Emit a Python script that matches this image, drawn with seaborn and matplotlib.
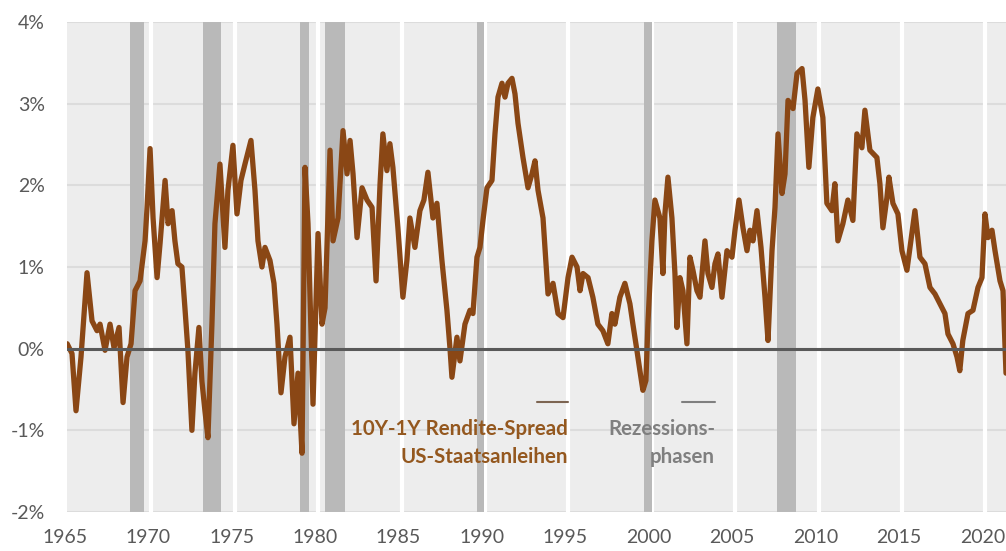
import matplotlib
matplotlib.use('Agg')
import matplotlib.pyplot as plt
import matplotlib.transforms as mtransforms
import seaborn as sns
import pandas as pd

# 10Y-1Y spread of US treasuries (percent)
spread_year = [1964.95, 1965.24, 1965.48, 1965.78, 1966.14, 1966.44, 1966.74, 1966.92, 1967.22, 1967.52,
               1967.76, 1968.06, 1968.30, 1968.54, 1968.78, 1969.02, 1969.32, 1969.62, 1969.74, 1969.92,
               1970.10, 1970.34, 1970.52, 1970.82, 1971.00, 1971.24, 1971.41, 1971.59, 1971.83, 1972.01,
               1972.19, 1972.43, 1972.61, 1972.85, 1973.03, 1973.21, 1973.39, 1973.63, 1973.81, 1974.11,
               1974.41, 1974.59, 1974.89, 1975.13, 1975.37, 1975.61, 1975.97, 1976.21, 1976.39, 1976.63,
               1976.81, 1977.11, 1977.35, 1977.53, 1977.77, 1978.01, 1978.31, 1978.55, 1978.79, 1979.03,
               1979.21, 1979.39, 1979.69, 1979.99, 1980.23, 1980.41, 1980.71, 1980.89, 1981.19, 1981.49,
               1981.73, 1981.91, 1982.09, 1982.33, 1982.63, 1982.93, 1983.23, 1983.47, 1983.71, 1983.88,
               1984.12, 1984.30, 1984.48, 1984.78, 1985.08, 1985.32, 1985.50, 1985.80, 1986.10, 1986.34,
               1986.58, 1986.88, 1987.12, 1987.42, 1987.72, 1987.90, 1988.02, 1988.32, 1988.50, 1988.80,
               1989.10, 1989.28, 1989.52, 1989.70, 1989.88, 1990.12, 1990.42, 1990.60, 1990.78, 1991.02,
               1991.20, 1991.38, 1991.62, 1991.80, 1991.98, 1992.28, 1992.58, 1992.82, 1993.00, 1993.18,
               1993.48, 1993.78, 1994.08, 1994.38, 1994.68, 1994.98, 1995.22, 1995.52, 1995.70, 1995.88,
               1996.18, 1996.47, 1996.77, 1997.07, 1997.37, 1997.61, 1997.79, 1998.09, 1998.39, 1998.69,
               1998.87, 1999.11, 1999.29, 1999.47, 1999.65, 1999.77, 2000.01, 2000.19, 2000.49, 2000.67,
               2000.79, 2000.97, 2001.21, 2001.39, 2001.51, 2001.69, 2001.87, 2002.11, 2002.29, 2002.47,
               2002.71, 2002.89, 2003.19, 2003.37, 2003.61, 2003.79, 2003.97, 2004.21, 2004.51, 2004.81,
               2004.99, 2005.23, 2005.47, 2005.71, 2005.89, 2006.07, 2006.31, 2006.55, 2006.79, 2006.97,
               2007.21, 2007.39, 2007.57, 2007.81, 2007.99, 2008.17, 2008.47, 2008.71, 2009.01, 2009.19,
               2009.42, 2009.66, 2009.96, 2010.26, 2010.50, 2010.80, 2010.98, 2011.16, 2011.46, 2011.76,
               2012.06, 2012.30, 2012.60, 2012.78, 2013.08, 2013.50, 2013.68, 2013.86, 2014.10, 2014.22,
               2014.46, 2014.76, 2015.00, 2015.30, 2015.60, 2015.78, 2016.08, 2016.38, 2016.68, 2016.98,
               2017.28, 2017.58, 2017.76, 2018.06, 2018.30, 2018.47, 2018.65, 2018.96, 2019.26, 2019.56,
               2019.80, 2019.98, 2020.16, 2020.40, 2020.58, 2020.88, 2021.06, 2021.24]
spread_value = [0.06, -0.06, -0.76, -0.10, 0.93, 0.34, 0.22, 0.30, -0.02, 0.30,
                0.01, 0.26, -0.66, -0.10, 0.06, 0.71, 0.83, 1.32, 1.73, 2.45,
                1.60, 0.87, 1.29, 2.06, 1.53, 1.69, 1.32, 1.04, 1.00, 0.50,
                -0.02, -1.00, -0.30, 0.26, -0.40, -0.76, -1.09, 0.30, 1.53, 2.26,
                1.24, 1.94, 2.49, 1.65, 2.06, 2.26, 2.55, 1.94, 1.32, 1.00,
                1.24, 1.08, 0.80, 0.30, -0.54, -0.10, 0.14, -0.92, -0.30, -1.28,
                2.22, 1.53, -0.68, 1.41, 0.30, 0.50, 2.43, 1.32, 1.60, 2.67,
                2.14, 2.55, 2.14, 1.36, 1.97, 1.82, 1.73, 0.83, 2.02, 2.63,
                2.18, 2.51, 2.22, 1.48, 0.63, 1.08, 1.60, 1.24, 1.69, 1.82,
                2.16, 1.60, 1.78, 1.08, 0.47, 0.01, -0.35, 0.14, -0.15, 0.30,
                0.47, 0.43, 1.12, 1.24, 1.57, 1.97, 2.06, 2.63, 3.08, 3.25,
                3.08, 3.25, 3.31, 3.12, 2.76, 2.34, 1.97, 2.14, 2.30, 1.94,
                1.60, 0.67, 0.80, 0.43, 0.38, 0.87, 1.12, 1.00, 0.71, 0.92,
                0.87, 0.63, 0.30, 0.22, 0.06, 0.43, 0.30, 0.63, 0.80, 0.55,
                0.30, -0.02, -0.27, -0.51, -0.39, 0.30, 1.32, 1.82, 1.60, 0.92,
                1.65, 2.10, 1.60, 0.92, 0.26, 0.87, 0.71, 0.06, 1.12, 0.96,
                0.71, 0.63, 1.32, 0.92, 0.75, 1.04, 1.16, 0.63, 1.20, 1.12,
                1.45, 1.82, 1.48, 1.20, 1.45, 1.32, 1.69, 1.24, 0.63, 0.10,
                1.20, 1.73, 2.63, 1.90, 2.14, 3.04, 2.94, 3.37, 3.43, 3.04,
                2.22, 2.83, 3.18, 2.83, 1.78, 1.69, 2.02, 1.32, 1.53, 1.82,
                1.57, 2.63, 2.46, 2.92, 2.43, 2.34, 2.02, 1.48, 1.85, 2.10,
                1.78, 1.65, 1.20, 0.96, 1.41, 1.69, 1.12, 1.04, 0.75, 0.67,
                0.55, 0.43, 0.18, 0.06, -0.10, -0.27, 0.10, 0.43, 0.47, 0.75,
                0.87, 1.65, 1.36, 1.45, 1.20, 0.83, 0.71, -0.30]

# recession phases (start, end) as placed on the chart's axis
rez_start = [1968.72, 1973.10, 1978.90, 1980.40, 1989.52, 1999.53, 2007.51]
rez_end = [1969.56, 1974.17, 1979.44, 1981.60, 1989.94, 2000.01, 2008.65]

x_ticks = [1965, 1970, 1975, 1980, 1985, 1990, 1995, 2000, 2005, 2010, 2015, 2020]
y_ticks = [-2, -1, 0, 1, 2, 3, 4]
y_labels = ['-2%', '-1%', '0%', '1%', '2%', '3%', '4%']

df = pd.DataFrame({'Jahr': spread_year, 'Spread': spread_value})

sns.set_theme(style='white')
plt.rcParams['font.family'] = ['Lato', 'DejaVu Sans']

fig = plt.figure(figsize=(10.06, 5.51), dpi=100)
ax = fig.add_axes([67 / 1006, 39 / 551, 939 / 1006, 490 / 551])
ax.set_facecolor('#ededed')

# horizontal grid, white 5-year separators, recession bands
for y in y_ticks:
    ax.axhline(y, color='#dcdcdc', lw=1.5, zorder=0.5)
for x in x_ticks[1:]:
    ax.axvline(x, color='white', lw=3, zorder=1)
for s, e in zip(rez_start, rez_end):
    ax.axvspan(s, e, color='#b9b9b9', lw=0, zorder=1.5)

sns.lineplot(data=df, x='Jahr', y='Spread', color='#8a4715', lw=3.8, ax=ax, zorder=2)
ax.axhline(0, color='#595959', lw=2.2, zorder=3)

ax.set_xlim(1964.94, 2021.24)
ax.set_ylim(-2, 4)
ax.set_xticks(x_ticks)
ax.set_xticklabels([str(t) for t in x_ticks])
ax.set_yticks(y_ticks)
ax.set_yticklabels(y_labels)
ax.tick_params(axis='both', length=0, labelsize=14, labelcolor='#595959')
ax.tick_params(axis='x', pad=12)
ax.tick_params(axis='y', pad=16)
# labels sit a few pixels left of the year marks in the original
shift = mtransforms.ScaledTranslation(-3 / 100, 0, fig.dpi_scale_trans)
for lab in ax.get_xticklabels():
    lab.set_transform(lab.get_transform() + shift)
ax.set_xlabel('')
ax.set_ylabel('')
for sp in ax.spines.values():
    sp.set_visible(False)

# legend drawn by hand like in the original
fs = 14.8
ax.plot([0.5005, 0.5336], [0.2245, 0.2245], transform=ax.transAxes, color='#7d6552', lw=1.5, zorder=4)
ax.text(0.5336, 0.169, '10Y-1Y Rendite-Spread', transform=ax.transAxes, ha='right', va='center',
        fontsize=fs, fontweight='bold', color='#94581f', zorder=4)
ax.text(0.5336, 0.112, 'US-Staatsanleihen', transform=ax.transAxes, ha='right', va='center',
        fontsize=fs, fontweight='bold', color='#94581f', zorder=4)
ax.plot([0.6550, 0.6901], [0.2245, 0.2245], transform=ax.transAxes, color='#7f7f7f', lw=1.5, zorder=4)
ax.text(0.6901, 0.169, 'Rezessions-', transform=ax.transAxes, ha='right', va='center',
        fontsize=fs, fontweight='bold', color='#7f7f7f', zorder=4)
ax.text(0.6901, 0.112, 'phasen', transform=ax.transAxes, ha='right', va='center',
        fontsize=fs, fontweight='bold', color='#7f7f7f', zorder=4)

fig.savefig('out.png', dpi=100)
